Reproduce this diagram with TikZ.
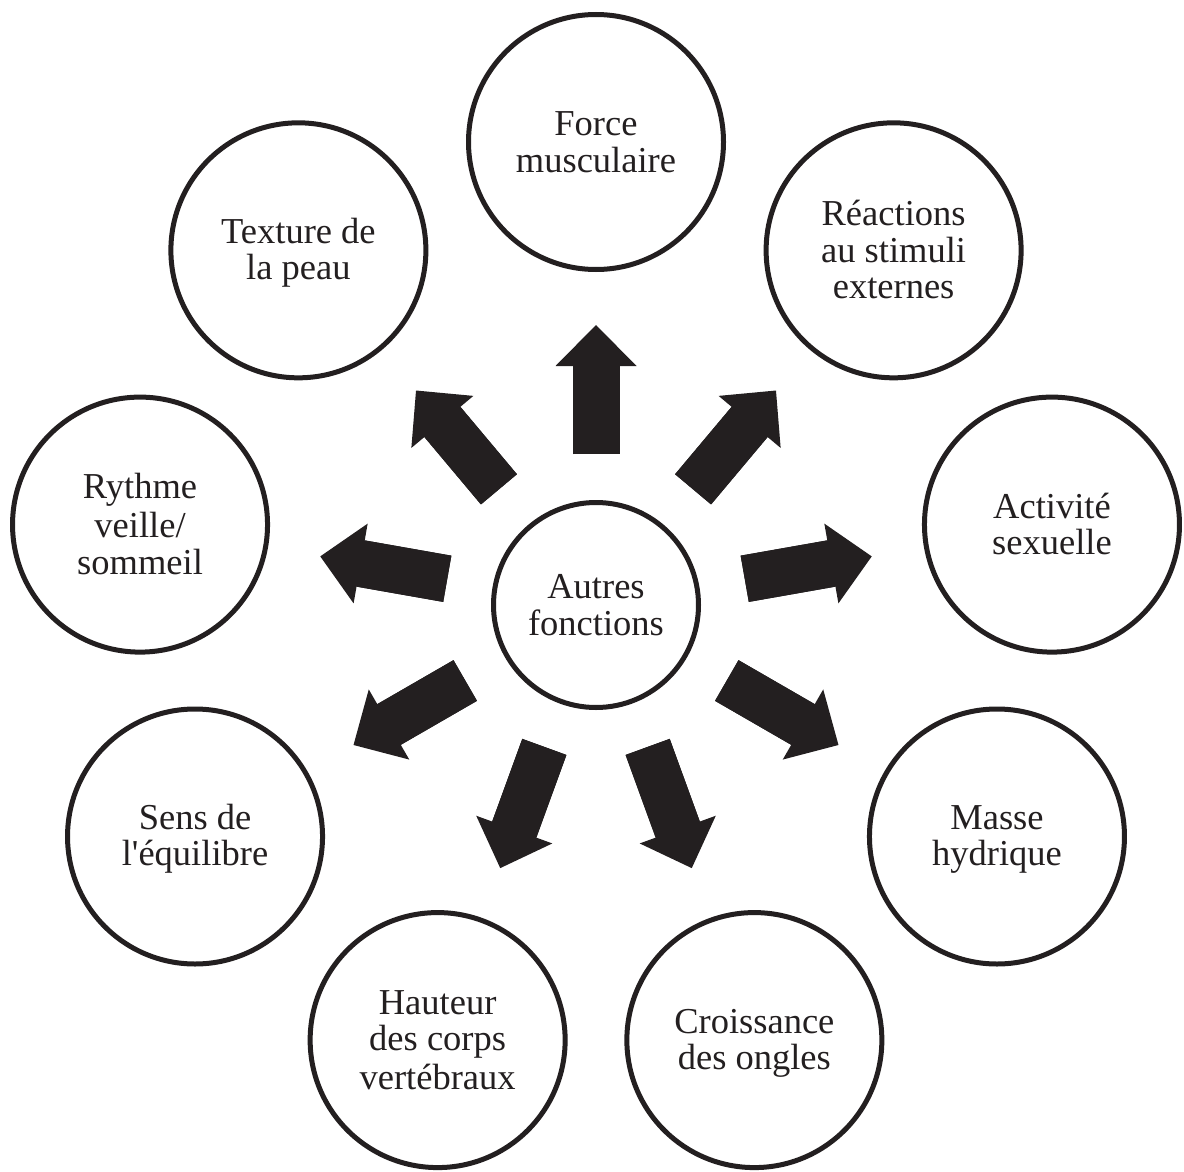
\documentclass[tikz,border=0pt]{standalone}
\usepackage{fontspec}
\setmainfont{Liberation Serif}[Ligatures=TeXOff]
\usetikzlibrary{arrows.meta,calc}
\definecolor{ink}{HTML}{231F20}
\newcommand{\lnst}{\rule[-6.25pt]{0pt}{36.5pt}}
\tikzset{
  bubble/.style={circle, draw=ink, line width=5pt, minimum size=255pt, inner sep=0pt,
    align=center, text=ink, font=\fontsize{36.5pt}{36.5pt}\selectfont},
  hub/.style={bubble, minimum size=205pt},
  shaft/.style={draw=ink, line width=47pt},
  bigarrow/.style={draw=ink, line width=47pt,
    -{Triangle[width=81pt,length=41pt,line width=0pt]}}
}
\begin{document}
\begin{tikzpicture}
\useasboundingbox (0,0) rectangle (1184pt,-1172pt);
\node[hub] (ctr) at (596pt,-605pt) {\lnst Autres\\\lnst fonctions};
\node[bubble] (force) at ($(ctr)+(90:463pt)$) {\lnst Force\\\lnst musculaire};
\node[bubble] (reac) at ($(ctr)+(50:463pt)$) {\lnst Réactions\\\lnst au stimuli\\\lnst externes};
\node[bubble] (acti) at ($(ctr)+(10:463pt)$) {\lnst Activité\\\lnst sexuelle};
\node[bubble] (masse) at ($(ctr)+(330:463pt)$) {\lnst Masse\\\lnst hydrique};
\node[bubble] (crois) at ($(ctr)+(290:463pt)$) {\lnst Croissance\\\lnst des ongles};
\node[bubble] (haut) at ($(ctr)+(250:463pt)$) {\lnst Hauteur\\\lnst des corps\\\lnst vertébraux};
\node[bubble] (sens) at ($(ctr)+(210:463pt)$) {\lnst Sens de\\\lnst l'équilibre};
\node[bubble] (ryth) at ($(ctr)+(170:463pt)$) {\lnst Rythme\\\lnst veille/\\\lnst sommeil};
\node[bubble] (text) at ($(ctr)+(130:463pt)$) {\lnst Texture de\\\lnst la peau};
\foreach \t in {force,reac,acti,masse,crois,haut,sens,ryth,text}{
  \draw[shaft] ($(ctr)!151pt!(\t)$) -- ($(ctr)!255pt!(\t)$);
  \draw[bigarrow] ($(ctr)!151pt!(\t)$) -- ($(ctr)!280pt!(\t)$);
}
\end{tikzpicture}
\end{document}
